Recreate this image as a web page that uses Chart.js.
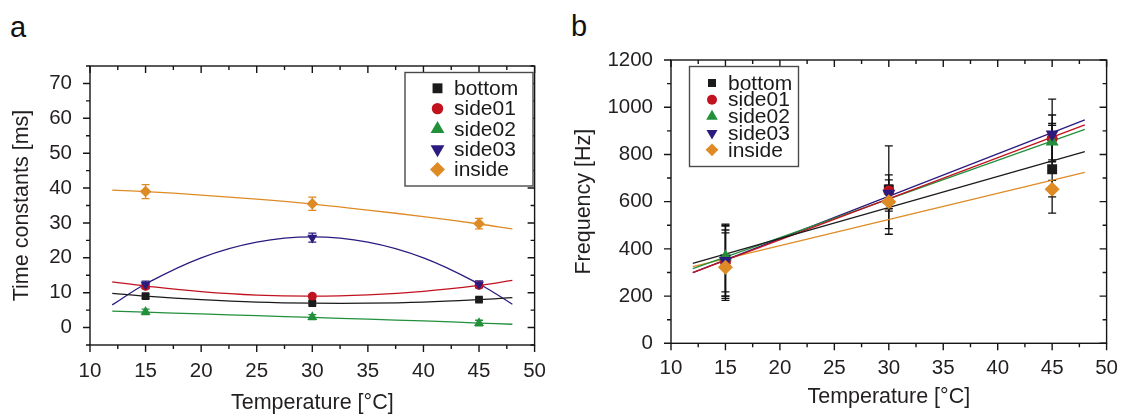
<!DOCTYPE html>
<html><head><meta charset="utf-8">
<script src="https://cdn.jsdelivr.net/npm/chart.js@4/dist/chart.umd.min.js"></script>
<style>
html,body{margin:0;padding:0;background:#fff;width:1131px;height:416px;overflow:hidden;position:relative}
canvas{position:absolute;top:0}
#ca{left:0}
#cb{left:560px}
.lbl{position:absolute;font-family:'Liberation Sans',Arial,sans-serif;font-size:29px;line-height:29px;color:#111}
</style></head><body>
<div class="lbl" style="left:10px;top:13px">a</div>
<div class="lbl" style="left:571px;top:12px">b</div>
<canvas id="ca" width="560" height="416"></canvas>
<canvas id="cb" width="571" height="416"></canvas>
<script>
// ---------- shared ----------
const temps = [15, 30, 45];
const seriesNames = ['bottom', 'side01', 'side02', 'side03', 'inside'];
const seriesColors = ['#1b1b1b', '#c1121f', '#22903a', '#2b1b7e', '#de8b25'];
const pointStyles = ['rect', 'circle', 'triangle', 'triangle', 'rectRot'];
const pointRotations = [0, 0, 0, 180, 0];
const xTickLabels = [10, 15, 20, 25, 30, 35, 40, 45, 50];

// ---------- panel a : time constants [ms] ----------
const tauBottom = [9.0, 7.0, 8.0];
const tauSide01 = [11.8, 9.0, 12.1];
const tauSide02 = [4.5, 3.0, 1.3];
const tauSide03 = [12.3, 25.8, 12.4];
const tauInside = [39.0, 35.5, 29.8];
const tauErrBottom = [0.6, 0.5, 0.5];
const tauErrSide01 = [0.6, 0.5, 0.6];
const tauErrSide02 = [0.8, 0.7, 0.8];
const tauErrSide03 = [1.0, 1.3, 1.0];
const tauErrInside = [2.0, 1.9, 1.5];
const tauFitX = [12, 15, 20, 25, 30, 35, 40, 45, 48];
const tauFitBottom = [9.8, 9.0, 8.0, 7.3, 7.0, 7.0, 7.3, 8.0, 8.6];
const tauFitSide01 = [13.1, 11.9, 10.3, 9.3, 9.0, 9.4, 10.4, 12.1, 13.5];
const tauFitSide02 = [4.7, 4.4, 3.9, 3.4, 2.9, 2.4, 1.9, 1.3, 0.95];
const tauFitSide03 = [6.5, 12.5, 20.0, 24.5, 26.0, 24.5, 20.0, 12.5, 6.7];
const tauFitInside = [39.4, 39.0, 38.0, 36.8, 35.4, 33.7, 31.8, 29.7, 28.3];
const tauTickLabels = [0, 10, 20, 30, 40, 50, 60, 70];

// ---------- panel b : frequency [Hz] ----------
const freqBottom = [355, 652, 737];
const freqSide01 = [346, 645, 868];
const freqSide02 = [367, 607, 854];
const freqSide03 = [350, 635, 885];
const freqInside = [322, 600, 652];
const freqLoBottom = [190, 462, 551];
const freqHiBottom = [505, 836, 923];
const freqLoSide01 = [182, 486, 769];
const freqHiSide01 = [496, 713, 967];
const freqLoSide02 = [218, 560, 777];
const freqHiSide02 = [468, 692, 931];
const freqLoSide03 = [200, 600, 736];
const freqHiSide03 = [500, 670, 1034];
const freqLoInside = [200, 570, 620];
const freqHiInside = [480, 630, 690];
const freqFitX = [12, 48];
const freqFitBottom = [339, 812];
const freqFitSide01 = [299, 925];
const freqFitSide02 = [316, 906];
const freqFitSide03 = [299, 946];
const freqFitInside = [325, 724];
const freqTickLabels = [0, 200, 400, 600, 800, 1000, 1200];

const FONT = "'Liberation Sans', Arial, sans-serif";
Chart.defaults.font.family = FONT;
Chart.defaults.color = '#231f20';

function drawMarker(ctx, style, rot, x, y, r, color) {
  ctx.save();
  ctx.fillStyle = color;
  ctx.beginPath();
  if (style === 'rect') {
    const s = r * Math.SQRT1_2;
    ctx.rect(x - s, y - s, 2 * s, 2 * s);
  } else if (style === 'circle') {
    ctx.arc(x, y, r, 0, Math.PI * 2);
  } else if (style === 'triangle') {
    let a = rot * Math.PI / 180;
    ctx.moveTo(x + Math.sin(a) * r, y - Math.cos(a) * r);
    a += 2 * Math.PI / 3;
    ctx.lineTo(x + Math.sin(a) * r, y - Math.cos(a) * r);
    a += 2 * Math.PI / 3;
    ctx.lineTo(x + Math.sin(a) * r, y - Math.cos(a) * r);
    ctx.closePath();
  } else if (style === 'rectRot') {
    ctx.moveTo(x - r, y); ctx.lineTo(x, y - r); ctx.lineTo(x + r, y); ctx.lineTo(x, y + r); ctx.closePath();
  }
  ctx.fill();
  ctx.restore();
}

const errorBarPlugin = {
  id: 'errorBars',
  beforeDatasetsDraw(chart, args, o) {
    const ctx = chart.ctx, ys = chart.scales.y;
    chart.data.datasets.forEach((ds, i) => {
      if (!ds.errLo) return;
      const meta = chart.getDatasetMeta(i);
      meta.data.forEach((pt, j) => {
        const x = pt.x;
        const y1 = ys.getPixelForValue(ds.errLo[j]);
        const y2 = ys.getPixelForValue(ds.errHi[j]);
        ctx.save();
        ctx.strokeStyle = o.color || ds.borderColor;
        ctx.lineWidth = o.lineWidth;
        ctx.beginPath();
        ctx.moveTo(x, y1); ctx.lineTo(x, y2);
        ctx.moveTo(x - o.cap, y1); ctx.lineTo(x + o.cap, y1);
        ctx.moveTo(x - o.cap, y2); ctx.lineTo(x + o.cap, y2);
        ctx.stroke();
        ctx.restore();
      });
    });
  }
};

const framePlugin = {
  id: 'frame',
  afterDraw(chart, args, o) {
    const ctx = chart.ctx, a = chart.chartArea, xs = chart.scales.x, ys = chart.scales.y;
    ctx.save();
    ctx.strokeStyle = '#151515';
    ctx.lineWidth = 1.4;
    ctx.strokeRect(a.left, a.top, a.right - a.left, a.bottom - a.top);
    ctx.beginPath();
    xs.ticks.forEach(t => {
      const p = xs.getPixelForValue(t.value);
      const L = xTickLabels.includes(t.value) ? o.major : o.minor;
      ctx.moveTo(p, a.bottom); ctx.lineTo(p, a.bottom + L);
      ctx.moveTo(p, a.top); ctx.lineTo(p, a.top + L);
    });
    ys.ticks.forEach(t => {
      const p = ys.getPixelForValue(t.value);
      const L = o.yLabels.includes(t.value) ? o.major : o.minor;
      ctx.moveTo(a.left - L, p); ctx.lineTo(a.left, p);
      ctx.moveTo(a.right - L, p); ctx.lineTo(a.right, p);
    });
    ctx.stroke();
    ctx.restore();
  }
};

const boxLegendPlugin = {
  id: 'boxLegend',
  afterDraw(chart, args, o) {
    const ctx = chart.ctx;
    ctx.save();
    ctx.fillStyle = '#fff';
    ctx.fillRect(o.x, o.y, o.w, o.h);
    ctx.strokeStyle = '#4a4a4a';
    ctx.lineWidth = 1.4;
    ctx.strokeRect(o.x, o.y, o.w, o.h);
    ctx.font = o.fontSize + 'px ' + FONT;
    ctx.textBaseline = 'middle';
    ctx.textAlign = 'left';
    chart.data.datasets.filter(d => d.inLegend).forEach((d, i) => {
      const cy = o.firstY + i * o.rowH;
      drawMarker(ctx, d.pointStyle, d.rotation, o.markerX, cy, o.r[i], d.backgroundColor);
      ctx.fillStyle = '#1a1a1a';
      ctx.fillText(d.label, o.textX, cy + 1);
    });
    ctx.restore();
  }
};

function pts(xs, ys) { return xs.map((x, i) => ({x: x, y: ys[i]})); }

function buildDatasets(values, lows, highs, fitX, fits, radii, tension) {
  const ds = [];
  values.forEach((v, i) => {
    ds.push({
      label: seriesNames[i], inLegend: true,
      data: pts(temps, v), showLine: false,
      backgroundColor: seriesColors[i], borderColor: seriesColors[i], borderWidth: 0,
      pointStyle: pointStyles[i], rotation: pointRotations[i], pointRadius: radii[i],
      errLo: lows[i], errHi: highs[i], order: 5 - i
    });
  });
  fits.forEach((f, i) => {
    ds.push({
      label: seriesNames[i] + ' fit', inLegend: false,
      data: pts(fitX, f), showLine: true, pointRadius: 0,
      borderColor: seriesColors[i], borderWidth: 1.3, tension: tension,
      fill: false, order: 10
    });
  });
  return ds;
}

function buildOptions(p) {
  return {
    responsive: false, animation: false, devicePixelRatio: 1,
    layout: {padding: {left: 0, top: p.top, right: p.right, bottom: 0}},
    plugins: {
      legend: {display: false}, tooltip: {enabled: false},
      frame: {major: 7, minor: 4, yLabels: p.yLabels},
      boxLegend: p.legend,
      errorBars: p.err
    },
    scales: {
      x: {
        type: 'linear', min: 10, max: 50,
        afterFit(s) { s.height = p.xH; },
        grid: {display: false, drawTicks: false}, border: {display: false},
        ticks: {stepSize: 2.5, autoSkip: false, maxRotation: 0, minRotation: 0, padding: p.xPad,
          font: {size: 20.5}, color: '#231f20',
          callback: (v) => xTickLabels.includes(v) ? String(v) : ''},
        title: {display: true, text: 'Temperature [°C]', color: '#231f20', font: {size: 21.5},
          padding: {top: 0, bottom: p.xTitlePad}}
      },
      y: {
        type: 'linear', min: p.ymin, max: p.ymax,
        afterFit(s) { s.width = p.yW; },
        grid: {display: false, drawTicks: false}, border: {display: false},
        ticks: {stepSize: p.ystep, autoSkip: false, padding: p.yPad,
          font: {size: 20.5}, color: '#231f20',
          callback: (v) => p.yLabels.includes(v) ? String(v) : ''},
        title: {display: true, text: p.ytitle, color: '#231f20', font: {size: 21.5},
          padding: {top: p.yTitlePad, bottom: 0}}
      }
    }
  };
}

// ---------- chart a ----------
const aVals = [tauBottom, tauSide01, tauSide02, tauSide03, tauInside];
const aErrs = [tauErrBottom, tauErrSide01, tauErrSide02, tauErrSide03, tauErrInside];
const aLo = aVals.map((v, i) => v.map((y, j) => y - aErrs[i][j]));
const aHi = aVals.map((v, i) => v.map((y, j) => y + aErrs[i][j]));
new Chart(document.getElementById('ca'), {
  type: 'scatter',
  data: {datasets: buildDatasets(aVals, aLo, aHi, tauFitX,
    [tauFitBottom, tauFitSide01, tauFitSide02, tauFitSide03, tauFitInside],
    [5.4, 4.4, 5.8, 5.8, 5.8], 0.4)},
  options: buildOptions({
    top: 66, right: 19, xH: 71, yW: 90, xPad: 14, yPad: 18, xTitlePad: 0, yTitlePad: 9,
    ymin: -5, ymax: 75, ystep: 5, yLabels: tauTickLabels, ytitle: 'Time constants [ms]',
    legend: {x: 405, y: 72.5, w: 128, h: 113.5, firstY: 88.3, rowH: 20.3, markerX: 437.5, textX: 454,
      fontSize: 21, r: [7, 5.7, 8, 8, 7.5]},
    err: {lineWidth: 1.3, cap: 4}
  }),
  plugins: [errorBarPlugin, framePlugin, boxLegendPlugin]
});

// ---------- chart b ----------
const bVals = [freqBottom, freqSide01, freqSide02, freqSide03, freqInside];
const bLo = [freqLoBottom, freqLoSide01, freqLoSide02, freqLoSide03, freqLoInside];
const bHi = [freqHiBottom, freqHiSide01, freqHiSide02, freqHiSide03, freqHiInside];
new Chart(document.getElementById('cb'), {
  type: 'scatter',
  data: {datasets: buildDatasets(bVals, bLo, bHi, freqFitX,
    [freqFitBottom, freqFitSide01, freqFitSide02, freqFitSide03, freqFitInside],
    [7, 5.5, 7.5, 7.5, 7.5], 0)},
  options: buildOptions({
    top: 60, right: 14, xH: 72.7, yW: 111, xPad: 13, yPad: 18, xTitlePad: 6, yTitlePad: 11,
    ymin: 0, ymax: 1200, ystep: 100, yLabels: freqTickLabels, ytitle: 'Frequency [Hz]',
    legend: {x: 129.5, y: 66.5, w: 109, h: 100, firstY: 83, rowH: 16.7, markerX: 152, textX: 168,
      fontSize: 21, r: [5.7, 5, 6.7, 6.4, 6.4]},
    err: {lineWidth: 1.3, cap: 4, color: '#111'}
  }),
  plugins: [errorBarPlugin, framePlugin, boxLegendPlugin]
});
</script>
</body></html>
